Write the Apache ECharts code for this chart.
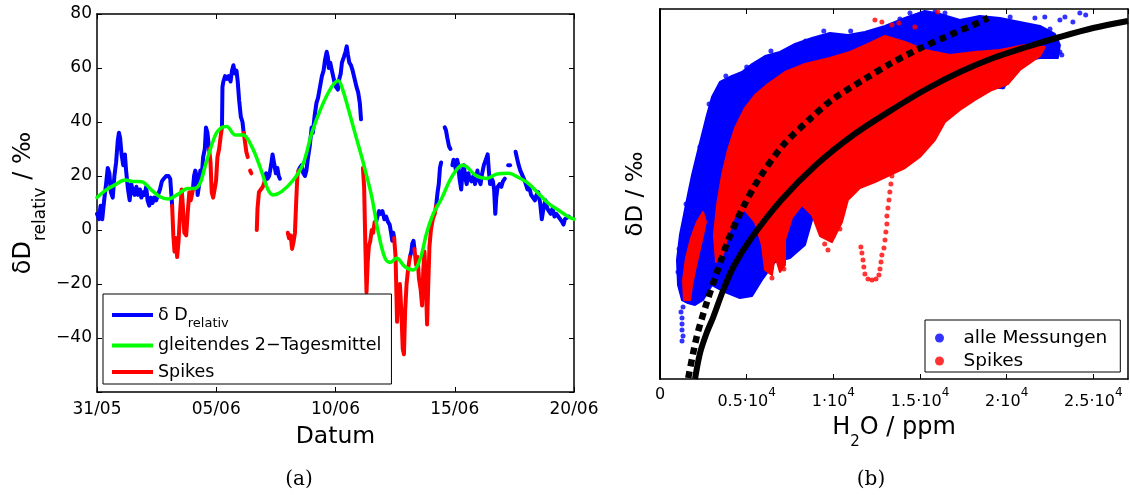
<!DOCTYPE html>
<html><head><meta charset="utf-8">
<script src="https://cdn.jsdelivr.net/npm/echarts@6/dist/echarts.min.js"></script>
<style>html,body{margin:0;padding:0;background:#fff}#c{width:1130px;height:495px}</style>
</head><body><div id="c"></div><script>
// ---------- Panel (a): time series (x = days since 31/05) ----------
const dateLabels = ['31/05', '05/06', '10/06', '15/06', '20/06'];
const leftYTickLabels = ['', '\u221240', '\u221220', '0', '20', '40', '60', '80']; // -60 .. 80

const blueSegments = [
  [[0,6],[0.08,4],[0.15,9],[0.22,4],[0.3,11],[0.38,17],[0.45,23],[0.52,21],[0.58,14],[0.66,12],[0.73,20],[0.8,25],[0.87,33],[0.92,36],[0.97,34],[1.03,28],[1.1,24],[1.17,28],[1.22,22],[1.3,15],[1.37,11],[1.44,17],[1.51,14],[1.58,13],[1.65,16],[1.72,13],[1.8,15],[1.86,12],[1.93,14],[2.0,13],[2.06,16],[2.12,11],[2.19,9],[2.26,12],[2.33,10],[2.4,12],[2.48,11],[2.56,13],[2.64,15],[2.72,18],[2.8,19],[2.9,20],[3.0,20],[3.07,19],[3.11,14],[3.15,9]],
  [[4.02,15],[4.07,20],[4.12,22],[4.18,20],[4.22,13],[4.27,16],[4.33,22],[4.4,21],[4.45,27],[4.52,30],[4.57,38],[4.63,36],[4.7,30]],
  [[5.24,38],[5.26,53],[5.3,55],[5.37,57],[5.45,56],[5.52,57],[5.6,55],[5.66,59],[5.72,61],[5.78,58],[5.85,59],[5.9,55],[5.96,48],[6.03,42],[6.1,40],[6.15,36]],
  [[7.03,18],[7.09,21],[7.15,19],[7.22,20],[7.3,24],[7.36,28],[7.42,25],[7.5,21],[7.56,23],[7.62,20],[7.67,19]],
  [[8.45,22],[8.5,23],[8.58,24],[8.65,21],[8.72,20],[8.78,22],[8.85,27],[8.92,31],[9.0,38],[9.05,36],[9.12,42],[9.2,47],[9.27,49],[9.35,53],[9.43,57],[9.5,59],[9.56,63],[9.63,66],[9.68,64],[9.72,60],[9.78,62],[9.85,59],[9.9,57],[9.95,55],[10.02,53],[10.1,52],[10.16,56],[10.22,58],[10.27,62],[10.35,64],[10.42,66],[10.47,68],[10.52,65],[10.58,62],[10.65,61],[10.72,59],[10.8,56],[10.88,53],[10.95,51],[11.02,47],[11.07,41]],
  [[11.7,3],[11.76,5],[11.83,7],[11.9,6],[11.97,7],[12.05,4],[12.12,5],[12.2,3],[12.27,2],[12.33,-1],[12.38,-4],[12.42,-1],[12.46,-3]],
  [[13.12,-10],[13.18,-8],[13.22,-5],[13.27,-4],[13.31,-7]],
  [[14.22,9],[14.28,14],[14.33,17],[14.38,23],[14.43,25]],
  [[14.58,38],[14.63,37],[14.69,34],[14.76,31],[14.82,30]],
  [[14.9,24],[14.95,26],[15.0,25],[15.05,22],[15.1,26],[15.15,24],[15.2,19],[15.27,15],[15.32,21],[15.38,24],[15.45,19],[15.5,17],[15.57,21],[15.62,19],[15.7,18],[15.78,20],[15.85,17],[15.9,19],[15.95,22],[16.0,19],[16.08,17],[16.15,21],[16.22,24],[16.3,26],[16.38,28],[16.43,22],[16.48,17],[16.55,19],[16.6,18],[16.65,15],[16.7,6],[16.74,12],[16.8,16],[16.88,17],[16.95,16],[17.02,18],[17.1,19]],
  [[17.24,24],[17.32,24]],
  [[17.55,29],[17.6,27],[17.68,24],[17.75,22],[17.82,22],[17.9,19],[17.98,17],[18.05,15],[18.12,16],[18.2,13],[18.28,12],[18.36,11],[18.43,13],[18.5,14],[18.58,10],[18.65,4],[18.72,8],[18.8,11],[18.88,8],[18.95,7],[19.02,6],[19.1,8],[19.18,5],[19.26,6],[19.34,5],[19.42,4],[19.5,3],[19.56,2],[19.62,4],[19.7,4],[19.78,5]]
];

const redSegments = [
  [[3.15,9],[3.2,-2],[3.25,-8],[3.3,-3],[3.36,-10],[3.42,-4],[3.48,6],[3.55,15],[3.6,9],[3.66,-1],[3.74,-2],[3.8,6],[3.87,14],[3.93,11],[3.98,13],[4.02,15]],
  [[4.7,30],[4.76,25],[4.81,14],[4.87,12],[4.93,12],[4.99,18],[5.05,27],[5.12,30],[5.19,35],[5.24,38]],
  [[6.15,36],[6.2,33],[6.26,29],[6.32,27]],
  [[6.42,22],[6.47,21]],
  [[6.7,0],[6.73,8],[6.79,14],[6.87,15],[6.95,16],[7.03,18]],
  [[8.0,-1],[8.05,-3],[8.12,-2],[8.18,-7],[8.25,-4],[8.3,-1],[8.35,10],[8.4,20],[8.45,22]],
  [[11.15,23],[11.2,16],[11.25,-5],[11.3,-23],[11.35,-12],[11.4,-6],[11.46,-4],[11.52,0],[11.58,-1],[11.64,3],[11.7,3]],
  [[12.46,-3],[12.52,-10],[12.58,-34],[12.63,-25],[12.7,-20],[12.76,-30],[12.82,-44],[12.87,-46],[12.92,-30],[12.98,-20],[13.05,-14],[13.12,-10]],
  [[13.31,-7],[13.38,-13],[13.44,-10],[13.5,-18],[13.57,-22],[13.63,-28],[13.68,-15],[13.73,-8],[13.79,-20],[13.84,-35],[13.89,-20],[13.94,-6],[14.0,0],[14.08,4],[14.16,6],[14.22,9]]
];

const movingMean = [[0,12],[0.34,14.6],[0.75,16.7],[1.17,18.5],[1.5,18],[1.87,17.9],[2.29,14.8],[2.64,12.3],[2.98,11.5],[3.4,13.3],[3.8,15.4],[4.1,15.4],[4.32,17.3],[4.53,23.5],[4.74,29.6],[5.0,35.8],[5.2,37.8],[5.44,38.3],[5.79,35.2],[6.13,35.2],[6.49,30.9],[6.83,23.5],[7.18,14.8],[7.39,13],[7.74,14.2],[8.23,18.5],[8.65,24.7],[9.0,35.8],[9.42,45.7],[9.84,53],[10.12,55.3],[10.3,52],[10.47,47],[10.82,35.8],[11.17,24.7],[11.52,12.3],[11.8,-1.2],[12.08,-10.5],[12.29,-12],[12.57,-10.5],[12.91,-13.6],[13.26,-14.8],[13.54,-11],[13.82,-1.2],[14.1,6],[14.45,11.7],[14.8,18.5],[15.05,22],[15.3,24],[15.5,23.5],[15.85,20.4],[16.34,19.1],[16.76,20.7],[17.25,21],[17.66,19.5],[18.08,17.3],[18.5,13.6],[18.92,9.9],[19.34,7.4],[19.76,4.9],[20,4]];

// ---------- Panel (b): H2O vs dD (y in arbitrary units, axis unlabeled) ----------
const h2oTickMant = ['0', '0.5', '1', '1.5', '2', '2.5'];

const blueCloud = [[1270,79],[1040,94],[980,119],[1150,144],[1380,164],[1610,184],[1850,204],[2130,224],[2420,244],[2710,264],[3000,282],[3460,297],[4150,303],[4730,307],[5310,315],[6060,323],[6920,327],[7790,335],[8770,341],[9800,346],[10840,344],[11820,347],[12980,353],[14130,361],[15280,368],[16150,365],[17300,359],[18450,363],[19610,361],[20760,357],[21920,353],[22780,345],[23070,334],[22950,321],[21920,321],[21220,319],[20470,304],[19780,291],[18740,291],[17760,287],[16720,277],[15570,271],[14420,264],[13260,251],[12110,224],[11250,207],[10090,194],[9230,189],[8770,159],[8360,134],[7500,121],[6630,117],[5880,99],[5310,83],[4610,81],[3750,87],[3000,94],[2480,79],[2020,74],[1610,76]];

const blueDots = [[1270,61],[1270,55],[1270,49],[1330,43],[1270,38],[1210,67],[1330,72],[21630,361],[22200,362],[23070,359],[23360,362],[23820,357],[24220,366],[24560,364],[23070,327],[23180,324],[19780,292],[14420,366],[15860,367],[16440,366],[13840,360],[1040,107],[1100,130],[1500,175],[2300,232],[2830,275],[3800,303],[5000,312],[6400,328],[8400,338],[9450,348],[11000,348],[20200,362],[22500,350]];

const redMain = [[3230,117],[3110,144],[3290,174],[3580,204],[3920,229],[4330,251],[4900,271],[5480,284],[6230,295],[7210,307],[8360,315],[9800,321],[10960,327],[12000,335],[12980,343],[14130,337],[15280,329],[16720,324],[18170,327],[19610,329],[21050,334],[22200,332],[21920,323],[20760,309],[20070,295],[19150,289],[18170,279],[17300,269],[16440,257],[15860,239],[14990,222],[14130,211],[13260,204],[12400,197],[11530,191],[10840,179],[10500,157],[9920,137],[9230,143],[8770,164],[8190,174],[7610,161],[7210,139],[7210,114],[6920,107],[6630,124],[6460,104],[6060,109],[5880,134],[5480,157],[4900,169],[4330,164],[3920,144],[3580,121]];

const redStrand = [[1380,79],[1330,99],[1500,121],[1790,141],[2130,157],[2480,167],[2650,157],[2420,139],[2130,117],[1850,94],[1730,79]];

const redDots = [[13550,219],[13440,211],[13380,203],[13320,195],[13260,187],[13210,179],[13150,171],[13090,163],[13090,155],[13030,147],[12980,139],[12920,131],[12800,124],[12750,117],[12690,110],[12630,104],[12460,100],[12230,99],[12000,100],[11820,105],[11760,112],[11710,119],[11650,126],[11590,132],[12400,359],[12800,357],[13380,354],[13780,356],[16030,367],[14700,352],[10000,143],[10380,150],[9690,129],[9500,135],[6460,101],[7150,110]];

const fitSolid = [[2020,0],[2310,26],[2690,46],[3075,62],[3650,89],[4230,112],[5190,139],[7000,179],[9000,214],[11150,244],[13450,270],[15380,290],[17300,307],[19220,321],[21150,332],[23070,342],[24990,351],[27000,358]];
const fitDotted = [[1630,1],[2115,42],[2690,76],[3270,106],[3940,139],[4800,172],[5770,202],[7110,234],[8650,260],[9990,280],[11720,299],[13260,315],[14800,329],[16340,341],[18070,354],[18930,361]];

// ---------- chart ----------
const FF = 'DejaVu Sans';
const BLUE = '#0000ff', RED = '#ff0000', GREEN = '#00ff00';
const axLine = { show: true, onZero: false, lineStyle: { color: '#000', width: 1.5 } };
const tick = { show: true, inside: true, length: 5, lineStyle: { color: '#000', width: 1 } };

function lineSeries(name, data, color, width, z) {
  return { type: 'line', name, data, xAxisIndex: 0, yAxisIndex: 0, z,
    showSymbol: false, symbol: 'none', color, itemStyle: { color },
    lineStyle: { color, width, cap: 'round', join: 'round' }, clip: true };
}
function polySeries(poly, color, z) {
  return { type: 'custom', xAxisIndex: 2, yAxisIndex: 2, z, silent: true, clip: true,
    data: [poly[0]],
    renderItem: (params, api) => ({ type: 'polygon',
      shape: { points: poly.map(p => api.coord(p)) },
      style: { fill: color, stroke: color, lineWidth: 2, lineJoin: 'round' } }) };
}

const series = [];
blueSegments.forEach(s => series.push(lineSeries('dD', s, BLUE, 4, 2)));
redSegments.forEach(s => series.push(lineSeries('Spikes', s, RED, 4, 3)));
const g = lineSeries('gleitendes 2\u2212Tagesmittel', movingMean, GREEN, 3.5, 4);
g.smooth = 0.35; series.push(g);

series.push(polySeries(blueCloud, BLUE, 2));
series.push({ type: 'scatter', name: 'alle Messungen', data: blueDots, xAxisIndex: 2, yAxisIndex: 2, z: 3,
  symbolSize: 5, itemStyle: { color: BLUE }, color: BLUE, clip: true });
series.push(polySeries(redMain, RED, 4));
series.push(polySeries(redStrand, RED, 4));
series.push({ type: 'scatter', name: 'Spikes (b)', data: redDots, xAxisIndex: 2, yAxisIndex: 2, z: 5,
  symbolSize: 5, itemStyle: { color: RED }, color: RED, clip: true });
series.push({ type: 'line', data: fitSolid, xAxisIndex: 2, yAxisIndex: 2, z: 6, showSymbol: false, symbol: 'none',
  smooth: 0.3,
  lineStyle: { color: '#000', width: 6, join: 'round' }, clip: true });
series.push({ type: 'line', data: fitDotted, xAxisIndex: 2, yAxisIndex: 2, z: 6, showSymbol: false, symbol: 'none',
  smooth: 0.3,
  lineStyle: { color: '#000', width: 6.5, type: [7, 5], cap: 'butt' }, clip: true });

const option = {
  animation: false,
  backgroundColor: '#fff',
  textStyle: { fontFamily: FF, color: '#000' },
  grid: [
    { left: 97, top: 14, width: 477, height: 378 },
    { left: 660, top: 9, width: 468, height: 370 }
  ],
  xAxis: [
    { gridIndex: 0, type: 'value', min: 0, max: 20, interval: 5, axisLine: axLine, axisTick: tick, splitLine: { show: false },
      axisLabel: { color: '#000', fontFamily: FF, fontSize: 17, margin: 9, formatter: v => dateLabels[Math.round(v / 5)] },
      name: 'Datum', nameLocation: 'middle', nameGap: 27, nameTextStyle: { fontFamily: FF, fontSize: 23.5, color: '#000', lineHeight: 28 } },
    { gridIndex: 0, type: 'value', position: 'top', min: 0, max: 20, interval: 5, axisLine: axLine, axisTick: tick,
      axisLabel: { show: false }, splitLine: { show: false } },
    { gridIndex: 1, type: 'value', min: 0, max: 27000, interval: 5000, axisLine: axLine, axisTick: tick, splitLine: { show: false },
      axisLabel: { color: '#000', fontFamily: FF, margin: 8, showMaxLabel: false,
        formatter: v => { if (v % 5000 !== 0) return ''; const i = v / 5000; return i === 0 ? '{z|0}' : '{b|' + h2oTickMant[i] + '\u00b710}{p|4}'; },
        rich: { z: { fontFamily: FF, fontSize: 16, lineHeight: 16 }, b: { fontFamily: FF, fontSize: 16, lineHeight: 30 },
                p: { fontFamily: FF, fontSize: 12, lineHeight: 12, verticalAlign: 'top' } } },
      name: '{n|H}{s|2}{n|O / ppm}', nameLocation: 'middle', nameGap: 27,
      nameTextStyle: { rich: { n: { fontFamily: FF, fontSize: 24, lineHeight: 44, color: '#000' },
                               s: { fontFamily: FF, fontSize: 15, lineHeight: 15, verticalAlign: 'bottom', color: '#000' } } } },
    { gridIndex: 1, type: 'value', position: 'top', min: 0, max: 27000, interval: 5000, axisLine: axLine, axisTick: tick,
      axisLabel: { show: false }, splitLine: { show: false } }
  ],
  yAxis: [
    { gridIndex: 0, type: 'value', min: -60, max: 80, interval: 20, axisLine: axLine, axisTick: tick, splitLine: { show: false },
      axisLabel: { color: '#000', fontFamily: FF, fontSize: 17, margin: 5, showMinLabel: true,
        formatter: v => leftYTickLabels[Math.round((v + 60) / 20)] },
      name: '{a|\u03b4D}{s|relativ}{a| / \u2030}', nameLocation: 'middle', nameRotate: 90, nameGap: 48,
      nameTextStyle: { rich: { a: { fontFamily: FF, fontSize: 24, lineHeight: 50, color: '#000' },
                               s: { fontFamily: FF, fontSize: 17, lineHeight: 18, verticalAlign: 'bottom', color: '#000' } } } },
    { gridIndex: 0, type: 'value', position: 'right', min: -60, max: 80, interval: 20, axisLine: axLine, axisTick: tick,
      axisLabel: { show: false }, splitLine: { show: false } },
    { gridIndex: 1, type: 'value', min: 0, max: 370, axisLine: { show: true, onZero: false, lineStyle: { color: '#000', width: 2 } },
      axisTick: { show: false }, axisLabel: { show: false }, splitLine: { show: false },
      name: '\u03b4D / \u2030', nameLocation: 'middle', nameRotate: 90, nameGap: 10,
      nameTextStyle: { fontFamily: FF, fontSize: 23, color: '#000', lineHeight: 28 } },
    { gridIndex: 1, type: 'value', position: 'right', min: 0, max: 370, axisLine: axLine,
      axisTick: { show: false }, axisLabel: { show: false }, splitLine: { show: false } }
  ],
  legend: [
    { data: ['dD', 'gleitendes 2\u2212Tagesmittel', 'Spikes'], left: 103, top: 294, orient: 'vertical', icon: 'rect',
      itemWidth: 41, itemHeight: 4, itemGap: 4.5, padding: [6, 10, 1, 9], borderColor: '#000', borderWidth: 1,
      backgroundColor: '#fff', selectedMode: false, z: 10,
      formatter: n => n === 'dD' ? '{m|\u03b4 D}{s|relativ}' : n,
      textStyle: { fontFamily: FF, fontSize: 17.5, color: '#000', lineHeight: 22,
        rich: { m: { fontFamily: FF, fontSize: 17.5, lineHeight: 30, color: '#000' },
                s: { fontFamily: FF, fontSize: 13, lineHeight: 14, verticalAlign: 'bottom', color: '#000' } } } },
    { data: ['alle Messungen', 'Spikes (b)'], left: 925, top: 320, orient: 'vertical', icon: 'circle',
      itemWidth: 38, itemHeight: 9, itemGap: 3, padding: [8, 13, 1, 10], borderColor: '#000', borderWidth: 1,
      backgroundColor: '#fff', selectedMode: false, z: 10,
      formatter: n => n === 'Spikes (b)' ? 'Spikes' : n,
      textStyle: { fontFamily: FF, fontSize: 18.5, color: '#000', lineHeight: 20 } }
  ],
  graphic: [
    { type: 'text', x: 299, y: 480, style: { text: '(a)', fontFamily: 'DejaVu Serif', fontSize: 20, fill: '#000', align: 'center', verticalAlign: 'middle' } },
    { type: 'text', x: 871, y: 480, style: { text: '(b)', fontFamily: 'DejaVu Serif', fontSize: 20, fill: '#000', align: 'center', verticalAlign: 'middle' } }
  ],
  series
};

const chart = echarts.init(document.getElementById('c'), null, { renderer: 'canvas' });
chart.setOption(option);
</script></body></html>
